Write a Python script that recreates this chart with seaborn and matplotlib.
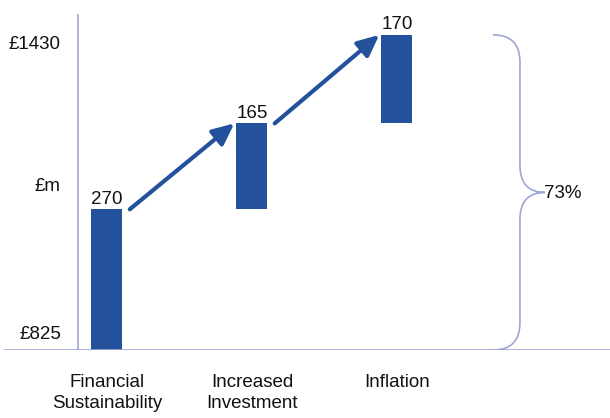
import matplotlib
matplotlib.use("Agg")
import matplotlib.pyplot as plt
from matplotlib.path import Path
from matplotlib.patches import PathPatch
import seaborn as sns

# Waterfall of spending growth from the base budget
categories = ["Financial\nSustainability", "Increased\nInvestment", "Inflation"]
increments = [270, 165, 170]
base_value = 825
total_value = 1430
share_label = "73%"
unit_label = "£m"

bases = [base_value]
for v in increments[:-1]:
    bases.append(bases[-1] + v)
tops = [b + v for b, v in zip(bases, increments)]

bar_color = "#23519B"
line_color = "#9EA5D8"
text_color = "#111111"
fs = 13.5

sns.set_theme(style="white")
plt.rcParams["font.family"] = ["Liberation Sans", "DejaVu Sans"]

fig = plt.figure(figsize=(6.1, 4.18), dpi=100)
ax = fig.add_axes([4 / 610, (418 - 350) / 418, 606 / 610, 336 / 418])

bar_w = 0.214
sns.barplot(x=categories, y=increments, bottom=bases, color=bar_color,
            width=bar_w, saturation=1, linewidth=0, ax=ax)

ax.set_xlim(-0.710, 3.469)
ax.set_ylim(base_value, 1470)
for s in ax.spines.values():
    s.set_visible(False)
ax.set_yticks([])
ax.tick_params(axis="x", length=0, pad=17, labelsize=fs, labelcolor=text_color)
for lbl in ax.get_xticklabels():
    lbl.set_linespacing(1.3)
ax.set_xlabel("")
ax.set_ylabel("")

# value axis and baseline
ax.axvline(-0.2, color=line_color, lw=1.2)
ax.axhline(base_value, color=line_color, lw=1.2)

# value labels on bars
for i, (t, v) in enumerate(zip(tops, increments)):
    ax.text(i, t + 3, f"{v}", ha="center", va="bottom", fontsize=fs, color=text_color)

# axis range labels
ax.text(-0.317, total_value - 2, f"£{total_value}", ha="right", va="top",
        fontsize=fs, color=text_color)
ax.text(-0.317, base_value + 14, f"£{base_value}", ha="right", va="bottom",
        fontsize=fs, color=text_color)
ax.text(-0.317, 1138, unit_label, ha="right", va="center",
        fontsize=fs, color=text_color)

# arrows linking consecutive steps
for i in range(len(increments) - 1):
    ax.annotate("", xy=(i + 1 - bar_w / 2 - 0.015, tops[i + 1]),
                xytext=(i + bar_w / 2 + 0.05, tops[i]),
                arrowprops=dict(arrowstyle="-|>,head_length=0.65,head_width=0.3",
                                lw=3, color=bar_color, shrinkA=0, shrinkB=0,
                                mutation_scale=20))

# brace spanning the whole increase
xb0, xb1, xb2 = 2.662, 2.848, 3.02
ymid = (base_value + total_value) / 2
ry = 52
verts = [
    (xb0, total_value), (xb1, total_value), (xb1, total_value - ry),
    (xb1, ymid + ry),
    (xb1, ymid), (xb2, ymid),
    (xb1, ymid), (xb1, ymid - ry),
    (xb1, base_value + ry),
    (xb1, base_value), (xb0, base_value),
]
codes = [
    Path.MOVETO, Path.CURVE3, Path.CURVE3,
    Path.LINETO,
    Path.CURVE3, Path.CURVE3,
    Path.CURVE3, Path.CURVE3,
    Path.LINETO,
    Path.CURVE3, Path.CURVE3,
]
ax.add_patch(PathPatch(Path(verts, codes), facecolor="none",
                       edgecolor=line_color, lw=1.2))
ax.text(xb2 - 0.005, ymid - 2, share_label, ha="left", va="center",
        fontsize=fs, color=text_color)

fig.savefig("out.png", dpi=100)
